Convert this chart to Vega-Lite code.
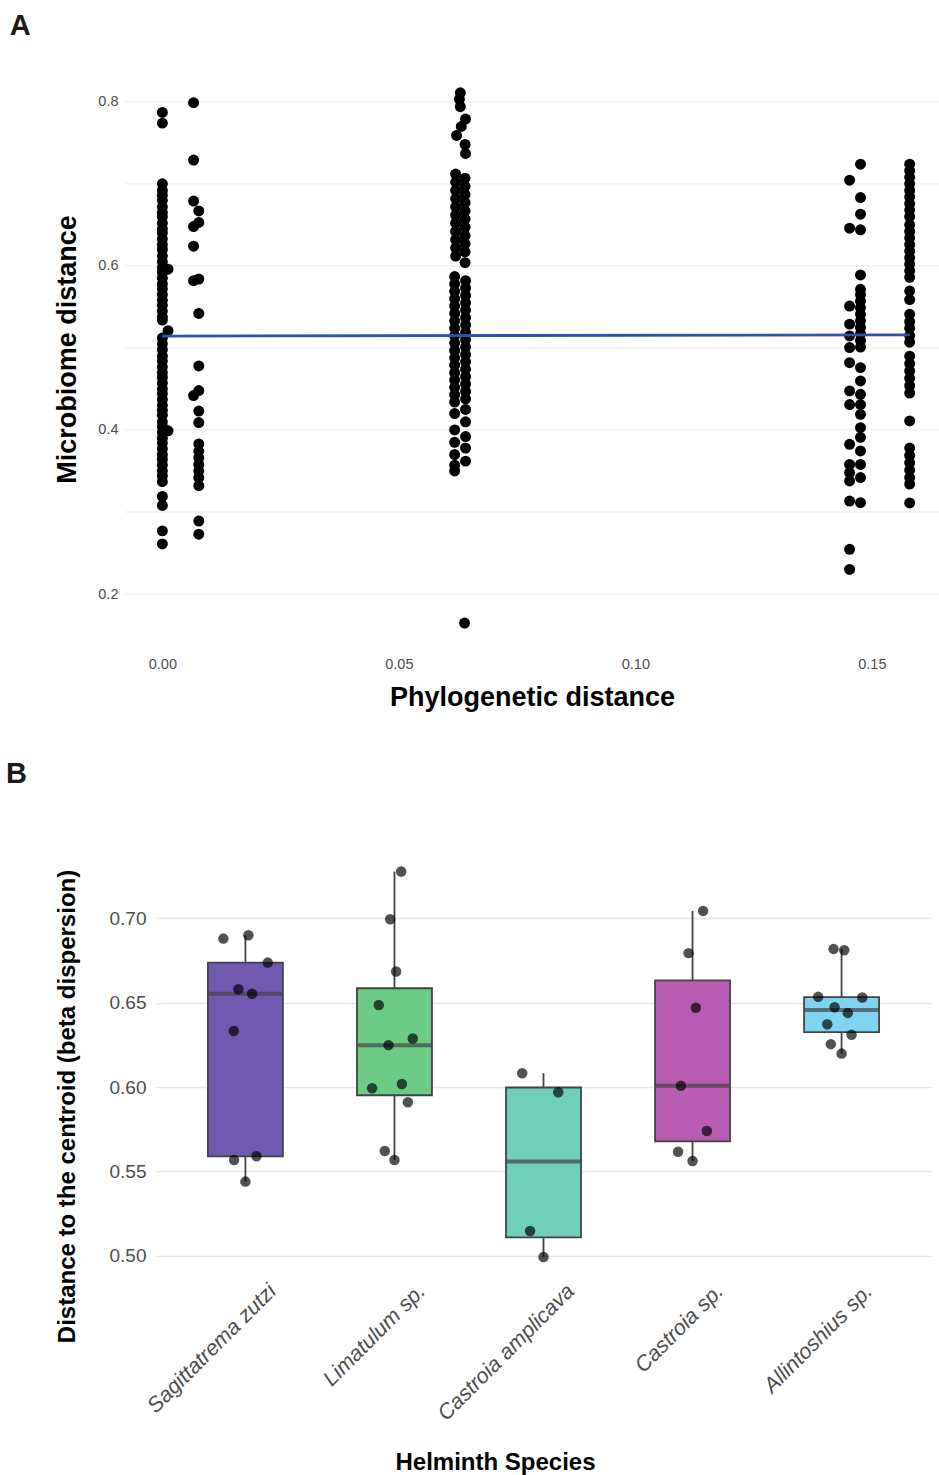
{
"$schema": "https://vega.github.io/schema/vega-lite/v6.json",
"background": "white",
"padding": {"left": 6, "top": 11, "right": 0, "bottom": 0},
"config": {"font": "Liberation Sans", "view": {"stroke": null}},
"vconcat": [
{
"title": {"text": "A", "anchor": "start", "frame": "bounds", "fontSize": 29, "fontWeight": "bold", "color": "#1a1a1a", "offset": 28.5, "dx": -44},
"width": 783,
"height": 580,
"layer": [
{
"data": {"values": [{"micro":0.2},{"micro":0.3},{"micro":0.4},{"micro":0.5},{"micro":0.6},{"micro":0.7},{"micro":0.8}]},
"mark": {"type": "rule", "color": "#EBEBEB", "strokeWidth": 1},
"encoding": {
"y": {"field": "micro", "type": "quantitative"},
"x": {"datum": -0.0079},
"x2": {"datum": 0.1642}
}
},
{
"data": {"name": "micro"},
"mark": {"type": "circle", "size": 120, "color": "black", "opacity": 1},
"encoding": {
"x": {"field": "phylo", "type": "quantitative",
"scale": {"domain": [-0.0079, 0.1642], "range": [-31, 783], "nice": false, "zero": false},
"axis": {"values": [0, 0.025, 0.05, 0.075, 0.1, 0.125, 0.15], "labelExpr": "round(datum.value*40)%2==0 ? format(datum.value,'.2f') : ''", "labelFlush": false, "labelOverlap": false, "title": "Phylogenetic distance", "titleFontSize": 27, "titleFontWeight": "bold", "titleColor": "black", "labelFontSize": 14.5, "labelColor": "#4d4d4d", "ticks": false, "domain": false, "gridColor": "#EBEBEB", "gridWidth": 1, "labelPadding": 8, "titlePadding": 14}},
"y": {"field": "micro", "type": "quantitative",
"scale": {"domain": [0.133, 0.84], "nice": false, "zero": false},
"axis": {"values": [0.2, 0.3, 0.4, 0.5, 0.6, 0.7, 0.8], "labelExpr": "round(datum.value*10)%2==0 ? format(datum.value,'.1f') : ''", "labelFlush": false, "labelOverlap": false, "grid": false, "offset": 31, "title": "Microbiome distance", "titleFontSize": 27, "titleFontWeight": "bold", "titleColor": "black", "titleY": 280, "labelFontSize": 14.5, "labelColor": "#4d4d4d", "ticks": false, "domain": false, "labelPadding": 7, "titlePadding": 16}}
}
},
{
"data": {"name": "fit"},
"mark": {"type": "line", "color": "#3152A8", "strokeWidth": 2.8},
"encoding": {
"x": {"field": "phylo", "type": "quantitative"},
"y": {"field": "micro", "type": "quantitative"}
}
}
]
},
{
"title": {"text": "B", "anchor": "start", "frame": "bounds", "fontSize": 29, "fontWeight": "bold", "color": "#1a1a1a", "offset": 65, "dx": -49},
"width": 775,
"height": 421,
"data": {"name": "beta"},
"encoding": {
"x": {"field": "species", "type": "nominal",
"sort": ["Sagittatrema zutzi", "Limatulum sp.", "Castroia amplicava", "Castroia sp.", "Allintoshius sp."],
"scale": {"paddingInner": 0, "paddingOuter": 0.1},
"axis": {"labelAngle": -45, "labelAlign": "right", "labelBaseline": "top", "labelFontStyle": "italic", "labelFontSize": 21.5, "labelLimit": 400, "labelColor": "#4d4d4d", "labelPadding": 5, "labelOffset": 20, "title": "Helminth Species", "titleFontSize": 24, "titleFontWeight": "bold", "titleColor": "black", "titleX": 339, "titlePadding": 26, "grid": false, "ticks": false, "domain": false}}
},
"layer": [
{
"mark": {"type": "boxplot", "extent": 1.5, "size": 75, "outliers": false,
"box": {"stroke": "#444444", "strokeWidth": 1.8, "opacity": 1},
"median": {"color": "#444444", "thickness": 4},
"rule": {"color": "#444444", "strokeWidth": 1.8}},
"encoding": {
"y": {"field": "dist", "type": "quantitative",
"scale": {"domain": [0.4887, 0.738], "nice": false, "zero": false},
"axis": {"values": [0.5, 0.55, 0.6, 0.65, 0.7], "format": ".2f", "labelFontSize": 19, "labelColor": "#4d4d4d", "labelPadding": 10, "title": "Distance to the centroid (beta dispersion)", "titleFontSize": 24, "titleFontWeight": "bold", "titleColor": "black", "titleY": 252, "titlePadding": 30, "ticks": false, "domain": false, "gridColor": "#E5E5E5", "gridWidth": 1.4}},
"color": {"field": "species", "type": "nominal",
"scale": {"domain": ["Sagittatrema zutzi", "Limatulum sp.", "Castroia amplicava", "Castroia sp.", "Allintoshius sp."], "range": ["#7059B0", "#6CCB85", "#6FCFB9", "#B95DB3", "#7FD4F2"]},
"legend": null}
}
},
{
"mark": {"type": "circle", "size": 110, "color": "black", "opacity": 0.68},
"encoding": {
"y": {"field": "dist", "type": "quantitative"},
"xOffset": {"field": "jit", "type": "quantitative", "scale": {"domain": [-0.5, 0.5]}}
}
}
]
}
],
"spacing": 49,
"datasets": {
"micro": [
{"phylo":0,"micro":0.787},{"phylo":0,"micro":0.774},{"phylo":0,"micro":0.700},{"phylo":0,"micro":0.692},{"phylo":0,"micro":0.686},{"phylo":0,"micro":0.680},{"phylo":0,"micro":0.672},{"phylo":0,"micro":0.665},{"phylo":0,"micro":0.660},{"phylo":0,"micro":0.652},{"phylo":0,"micro":0.645},{"phylo":0,"micro":0.640},{"phylo":0,"micro":0.633},{"phylo":0,"micro":0.626},{"phylo":0,"micro":0.620},{"phylo":0,"micro":0.612},{"phylo":0,"micro":0.605},{"phylo":0,"micro":0.598},{"phylo":0,"micro":0.592},{"phylo":0,"micro":0.585},{"phylo":0,"micro":0.578},{"phylo":0,"micro":0.572},{"phylo":0,"micro":0.565},{"phylo":0,"micro":0.558},{"phylo":0,"micro":0.552},{"phylo":0,"micro":0.545},{"phylo":0,"micro":0.538},{"phylo":0,"micro":0.534},
{"phylo":0,"micro":0.512},{"phylo":0,"micro":0.505},{"phylo":0,"micro":0.498},{"phylo":0,"micro":0.490},{"phylo":0,"micro":0.484},{"phylo":0,"micro":0.477},{"phylo":0,"micro":0.470},{"phylo":0,"micro":0.464},{"phylo":0,"micro":0.457},{"phylo":0,"micro":0.450},{"phylo":0,"micro":0.444},{"phylo":0,"micro":0.437},{"phylo":0,"micro":0.430},{"phylo":0,"micro":0.424},{"phylo":0,"micro":0.418},{"phylo":0,"micro":0.410},{"phylo":0,"micro":0.404},{"phylo":0,"micro":0.397},{"phylo":0,"micro":0.390},{"phylo":0,"micro":0.384},{"phylo":0,"micro":0.377},{"phylo":0,"micro":0.370},{"phylo":0,"micro":0.364},{"phylo":0,"micro":0.357},{"phylo":0,"micro":0.350},{"phylo":0,"micro":0.344},{"phylo":0,"micro":0.337},{"phylo":0,"micro":0.319},{"phylo":0,"micro":0.308},{"phylo":0,"micro":0.277},{"phylo":0,"micro":0.261},
{"phylo":0.0012,"micro":0.596},{"phylo":0.0012,"micro":0.521},{"phylo":0.0012,"micro":0.399},
{"phylo":0.0066,"micro":0.799},{"phylo":0.0066,"micro":0.729},{"phylo":0.0066,"micro":0.679},{"phylo":0.0066,"micro":0.648},{"phylo":0.0066,"micro":0.624},{"phylo":0.0066,"micro":0.582},{"phylo":0.0066,"micro":0.442},
{"phylo":0.0077,"micro":0.667},{"phylo":0.0077,"micro":0.653},{"phylo":0.0077,"micro":0.584},{"phylo":0.0077,"micro":0.542},{"phylo":0.0077,"micro":0.478},{"phylo":0.0077,"micro":0.448},{"phylo":0.0077,"micro":0.423},{"phylo":0.0077,"micro":0.409},{"phylo":0.0077,"micro":0.383},{"phylo":0.0077,"micro":0.374},{"phylo":0.0077,"micro":0.366},{"phylo":0.0077,"micro":0.358},{"phylo":0.0077,"micro":0.350},{"phylo":0.0077,"micro":0.342},{"phylo":0.0077,"micro":0.332},{"phylo":0.0077,"micro":0.289},{"phylo":0.0077,"micro":0.273},
{"phylo":0.0630,"micro":0.811},{"phylo":0.0628,"micro":0.803},{"phylo":0.0630,"micro":0.794},{"phylo":0.0641,"micro":0.779},{"phylo":0.0632,"micro":0.770},{"phylo":0.0622,"micro":0.759},{"phylo":0.0640,"micro":0.748},{"phylo":0.0641,"micro":0.737},
{"phylo":0.0620,"micro":0.712},{"phylo":0.0620,"micro":0.702},{"phylo":0.0620,"micro":0.692},{"phylo":0.0620,"micro":0.682},{"phylo":0.0620,"micro":0.672},{"phylo":0.0620,"micro":0.662},{"phylo":0.0620,"micro":0.652},{"phylo":0.0620,"micro":0.642},{"phylo":0.0620,"micro":0.632},{"phylo":0.0620,"micro":0.622},{"phylo":0.0620,"micro":0.612},
{"phylo":0.0640,"micro":0.707},{"phylo":0.0640,"micro":0.697},{"phylo":0.0640,"micro":0.687},{"phylo":0.0640,"micro":0.677},{"phylo":0.0640,"micro":0.667},{"phylo":0.0640,"micro":0.657},{"phylo":0.0640,"micro":0.647},{"phylo":0.0640,"micro":0.637},{"phylo":0.0640,"micro":0.627},{"phylo":0.0640,"micro":0.617},{"phylo":0.0640,"micro":0.604},
{"phylo":0.0618,"micro":0.587},{"phylo":0.0618,"micro":0.578},{"phylo":0.0618,"micro":0.569},{"phylo":0.0618,"micro":0.560},{"phylo":0.0618,"micro":0.551},{"phylo":0.0618,"micro":0.542},{"phylo":0.0618,"micro":0.533},{"phylo":0.0618,"micro":0.524},{"phylo":0.0618,"micro":0.515},{"phylo":0.0618,"micro":0.506},{"phylo":0.0618,"micro":0.497},{"phylo":0.0618,"micro":0.488},{"phylo":0.0618,"micro":0.479},{"phylo":0.0618,"micro":0.470},{"phylo":0.0618,"micro":0.461},{"phylo":0.0618,"micro":0.452},{"phylo":0.0618,"micro":0.443},{"phylo":0.0618,"micro":0.434},{"phylo":0.0618,"micro":0.420},{"phylo":0.0618,"micro":0.400},{"phylo":0.0618,"micro":0.385},{"phylo":0.0618,"micro":0.370},{"phylo":0.0618,"micro":0.357},{"phylo":0.0618,"micro":0.350},
{"phylo":0.0641,"micro":0.582},{"phylo":0.0641,"micro":0.573},{"phylo":0.0641,"micro":0.564},{"phylo":0.0641,"micro":0.555},{"phylo":0.0641,"micro":0.546},{"phylo":0.0641,"micro":0.537},{"phylo":0.0641,"micro":0.528},{"phylo":0.0641,"micro":0.519},{"phylo":0.0641,"micro":0.510},{"phylo":0.0641,"micro":0.501},{"phylo":0.0641,"micro":0.492},{"phylo":0.0641,"micro":0.483},{"phylo":0.0641,"micro":0.474},{"phylo":0.0641,"micro":0.465},{"phylo":0.0641,"micro":0.456},{"phylo":0.0641,"micro":0.447},{"phylo":0.0641,"micro":0.438},{"phylo":0.0641,"micro":0.425},{"phylo":0.0641,"micro":0.410},{"phylo":0.0641,"micro":0.392},{"phylo":0.0641,"micro":0.378},{"phylo":0.0641,"micro":0.362},
{"phylo":0.0639,"micro":0.1646},
{"phylo":0.1453,"micro":0.7045},{"phylo":0.1453,"micro":0.646},{"phylo":0.1453,"micro":0.551},{"phylo":0.1453,"micro":0.529},{"phylo":0.1453,"micro":0.5146},{"phylo":0.1453,"micro":0.5004},{"phylo":0.1453,"micro":0.482},{"phylo":0.1453,"micro":0.4476},{"phylo":0.1453,"micro":0.431},{"phylo":0.1453,"micro":0.3825},{"phylo":0.1453,"micro":0.358},{"phylo":0.1453,"micro":0.348},{"phylo":0.1453,"micro":0.3378},{"phylo":0.1453,"micro":0.3134},{"phylo":0.1453,"micro":0.2545},{"phylo":0.1453,"micro":0.230},
{"phylo":0.1476,"micro":0.724},{"phylo":0.1476,"micro":0.6833},{"phylo":0.1476,"micro":0.663},{"phylo":0.1476,"micro":0.644},{"phylo":0.1476,"micro":0.589},{"phylo":0.1476,"micro":0.5715},{"phylo":0.1476,"micro":0.565},{"phylo":0.1476,"micro":0.557},{"phylo":0.1476,"micro":0.549},{"phylo":0.1476,"micro":0.541},{"phylo":0.1476,"micro":0.533},{"phylo":0.1476,"micro":0.525},{"phylo":0.1476,"micro":0.517},{"phylo":0.1476,"micro":0.509},{"phylo":0.1476,"micro":0.501},{"phylo":0.1476,"micro":0.476},{"phylo":0.1476,"micro":0.4598},{"phylo":0.1476,"micro":0.4435},{"phylo":0.1476,"micro":0.431},{"phylo":0.1476,"micro":0.419},{"phylo":0.1476,"micro":0.4028},{"phylo":0.1476,"micro":0.391},{"phylo":0.1476,"micro":0.3744},{"phylo":0.1476,"micro":0.358},{"phylo":0.1476,"micro":0.342},{"phylo":0.1476,"micro":0.3114},
{"phylo":0.158,"micro":0.724},{"phylo":0.158,"micro":0.716},{"phylo":0.158,"micro":0.708},{"phylo":0.158,"micro":0.700},{"phylo":0.158,"micro":0.692},{"phylo":0.158,"micro":0.684},{"phylo":0.158,"micro":0.676},{"phylo":0.158,"micro":0.668},{"phylo":0.158,"micro":0.660},{"phylo":0.158,"micro":0.650},{"phylo":0.158,"micro":0.642},{"phylo":0.158,"micro":0.634},{"phylo":0.158,"micro":0.626},{"phylo":0.158,"micro":0.618},{"phylo":0.158,"micro":0.610},{"phylo":0.158,"micro":0.602},{"phylo":0.158,"micro":0.594},{"phylo":0.158,"micro":0.586},{"phylo":0.158,"micro":0.5695},{"phylo":0.158,"micro":0.559},{"phylo":0.158,"micro":0.541},{"phylo":0.158,"micro":0.532},{"phylo":0.158,"micro":0.524},{"phylo":0.158,"micro":0.515},{"phylo":0.158,"micro":0.507},{"phylo":0.158,"micro":0.490},{"phylo":0.158,"micro":0.481},{"phylo":0.158,"micro":0.472},{"phylo":0.158,"micro":0.463},{"phylo":0.158,"micro":0.454},{"phylo":0.158,"micro":0.445},{"phylo":0.158,"micro":0.411},{"phylo":0.158,"micro":0.378},{"phylo":0.158,"micro":0.369},{"phylo":0.158,"micro":0.360},{"phylo":0.158,"micro":0.351},{"phylo":0.158,"micro":0.342},{"phylo":0.158,"micro":0.334},{"phylo":0.158,"micro":0.311}
],
"fit": [{"phylo":0,"micro":0.5145},{"phylo":0.158,"micro":0.5159}],
"beta": [
{"species":"Sagittatrema zutzi","dist":0.6879,"jit":-0.148},{"species":"Sagittatrema zutzi","dist":0.6899,"jit":0.02},{"species":"Sagittatrema zutzi","dist":0.6737,"jit":0.15},{"species":"Sagittatrema zutzi","dist":0.6579,"jit":-0.047},{"species":"Sagittatrema zutzi","dist":0.6552,"jit":0.045},{"species":"Sagittatrema zutzi","dist":0.6332,"jit":-0.078},{"species":"Sagittatrema zutzi","dist":0.5568,"jit":-0.076},{"species":"Sagittatrema zutzi","dist":0.5590,"jit":0.074},{"species":"Sagittatrema zutzi","dist":0.5440,"jit":0.0},
{"species":"Limatulum sp.","dist":0.7276,"jit":0.045},{"species":"Limatulum sp.","dist":0.6994,"jit":-0.029},{"species":"Limatulum sp.","dist":0.6684,"jit":0.011},{"species":"Limatulum sp.","dist":0.6486,"jit":-0.105},{"species":"Limatulum sp.","dist":0.6287,"jit":0.123},{"species":"Limatulum sp.","dist":0.6248,"jit":-0.04},{"species":"Limatulum sp.","dist":0.5993,"jit":-0.15},{"species":"Limatulum sp.","dist":0.6018,"jit":0.05},{"species":"Limatulum sp.","dist":0.5910,"jit":0.09},{"species":"Limatulum sp.","dist":0.5621,"jit":-0.065},{"species":"Limatulum sp.","dist":0.5568,"jit":0.0},
{"species":"Castroia amplicava","dist":0.6082,"jit":-0.143},{"species":"Castroia amplicava","dist":0.5969,"jit":0.099},{"species":"Castroia amplicava","dist":0.5148,"jit":-0.09},{"species":"Castroia amplicava","dist":0.4994,"jit":0.0},
{"species":"Castroia sp.","dist":0.7043,"jit":0.071},{"species":"Castroia sp.","dist":0.6793,"jit":-0.027},{"species":"Castroia sp.","dist":0.6470,"jit":0.022},{"species":"Castroia sp.","dist":0.6007,"jit":-0.078},{"species":"Castroia sp.","dist":0.5740,"jit":0.096},{"species":"Castroia sp.","dist":0.5617,"jit":-0.097},{"species":"Castroia sp.","dist":0.5562,"jit":0.0},
{"species":"Allintoshius sp.","dist":0.6818,"jit":-0.054},{"species":"Allintoshius sp.","dist":0.6810,"jit":0.018},{"species":"Allintoshius sp.","dist":0.6534,"jit":-0.157},{"species":"Allintoshius sp.","dist":0.6530,"jit":0.139},{"species":"Allintoshius sp.","dist":0.6473,"jit":-0.047},{"species":"Allintoshius sp.","dist":0.6439,"jit":0.042},{"species":"Allintoshius sp.","dist":0.6372,"jit":-0.096},{"species":"Allintoshius sp.","dist":0.6309,"jit":0.067},{"species":"Allintoshius sp.","dist":0.6254,"jit":-0.072},{"species":"Allintoshius sp.","dist":0.6198,"jit":0.0}
]
}
}
